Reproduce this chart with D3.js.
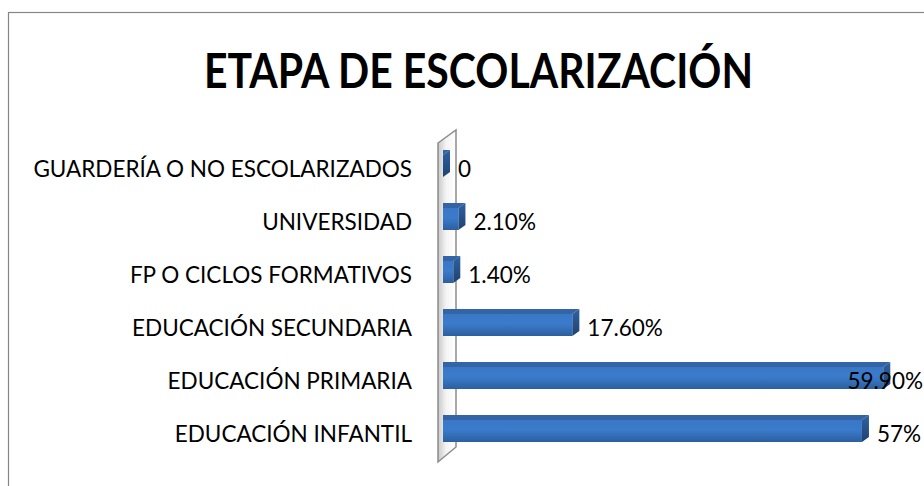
<!DOCTYPE html>
<html>
<head>
<meta charset="utf-8">
<script src="https://cdn.jsdelivr.net/npm/d3@7"></script>
<style>
  body { margin: 0; background: #fff; }
  svg { display: block; }
  text { font-family: Lato, "Open Sans", sans-serif; fill: #000; }
</style>
</head>
<body>
<svg width="924" height="486"></svg>
<script>
var svg = d3.select("svg"),
    width = +svg.attr("width"),
    height = +svg.attr("height");

// chart data, top to bottom as drawn
var categories = [
  "GUARDERÍA O NO ESCOLARIZADOS",
  "UNIVERSIDAD",
  "FP O CICLOS FORMATIVOS",
  "EDUCACIÓN SECUNDARIA",
  "EDUCACIÓN PRIMARIA",
  "EDUCACIÓN INFANTIL"
];
var values = [0, 2.1, 1.4, 17.6, 59.9, 57];
var valueLabels = ["0", "2.10%", "1.40%", "17.60%", "59.90%", "57%"];
var title = "ETAPA DE ESCOLARIZACIÓN";

var barH = 22,       // front face height
    depthX = 7,      // 3d depth offset
    depthY = 5;

var x = d3.scaleLinear().domain([0, 60]).range([443, 884]);
var y = d3.scalePoint().domain(categories).range([166, 431]);

var defs = svg.append("defs");

var front = defs.append("linearGradient")
    .attr("id", "barFront").attr("x1", 0).attr("y1", 0).attr("x2", 0).attr("y2", 1);
front.append("stop").attr("offset", "0%").attr("stop-color", "#3a78c6");
front.append("stop").attr("offset", "45%").attr("stop-color", "#3b7bcb");
front.append("stop").attr("offset", "100%").attr("stop-color", "#2c5f9f");

var side = defs.append("linearGradient")
    .attr("id", "barSide").attr("x1", 0).attr("y1", 0).attr("x2", 0).attr("y2", 1);
side.append("stop").attr("offset", "0%").attr("stop-color", "#2f62a3");
side.append("stop").attr("offset", "100%").attr("stop-color", "#1f426f");

var wallFill = defs.append("linearGradient")
    .attr("id", "wallFill").attr("x1", 0).attr("y1", 0).attr("x2", 1).attr("y2", 0);
wallFill.append("stop").attr("offset", "0%").attr("stop-color", "#c8c8c8");
wallFill.append("stop").attr("offset", "45%").attr("stop-color", "#f4f4f4");
wallFill.append("stop").attr("offset", "100%").attr("stop-color", "#ffffff");

// outer chart border (runs off the right and bottom edge)
svg.append("rect")
    .attr("x", 8.5).attr("y", 12.5)
    .attr("width", width + 20).attr("height", height + 20)
    .attr("fill", "#fff")
    .attr("stroke", "#868686")
    .attr("stroke-width", 1.2);

// title (squeezed to the width of the original condensed bold face)
svg.append("text")
    .attr("x", 478.5).attr("y", 88)
    .attr("text-anchor", "middle")
    .attr("textLength", 549)
    .attr("lengthAdjust", "spacingAndGlyphs")
    .style("font-size", "48px")
    .style("font-weight", "bold")
    .text(title);

// side wall of the 3d plot
var wx = x(0) - 5, wTop = y.range()[0] - 23, wBot = y.range()[1] + 31;
svg.append("path")
    .attr("d", "M" + wx + "," + wTop + "L" + (wx + 18) + "," + (wTop - 13) +
               "L" + (wx + 18) + "," + (wBot - 15) + "L" + wx + "," + wBot + "Z")
    .attr("fill", "url(#wallFill)")
    .attr("stroke", "#8c8c8c")
    .attr("stroke-width", 1.5);

// bars
var bar = svg.selectAll(".bar")
  .data(categories)
  .enter().append("g")
    .attr("class", "bar");

bar.append("path")
    .attr("d", function(d, i) {
      var x0 = x(0), x1 = x(values[i]), t = y(d) - barH / 2;
      return "M" + x0 + "," + t + "L" + x0 + "," + (t - depthY) +
             "L" + (x1 + depthX) + "," + (t - depthY) + "L" + x1 + "," + t + "Z";
    })
    .attr("fill", "#3365a6");

bar.append("rect")
    .attr("x", x(0))
    .attr("y", function(d) { return y(d) - barH / 2; })
    .attr("width", function(d, i) { return x(values[i]) - x(0); })
    .attr("height", barH)
    .attr("fill", "url(#barFront)");

bar.append("path")
    .attr("d", function(d, i) {
      var x1 = x(values[i]), t = y(d) - barH / 2, b = t + barH;
      return "M" + x1 + "," + t + "L" + (x1 + depthX) + "," + (t - depthY) +
             "L" + (x1 + depthX) + "," + (b - depthY) + "L" + x1 + "," + b + "Z";
    })
    .attr("fill", "url(#barSide)");

// category labels
svg.selectAll(".cat")
  .data(categories)
  .enter().append("text")
    .attr("class", "cat")
    .attr("x", 412)
    .attr("y", function(d) { return y(d) + 3; })
    .attr("dy", "0.35em")
    .attr("text-anchor", "end")
    .style("font-size", "22.5px")
    .text(function(d) { return d; });

// value labels, kept inside the chart's right edge
svg.selectAll(".val")
  .data(categories)
  .enter().append("text")
    .attr("class", "val")
    .attr("y", function(d) { return y(d) + 3; })
    .attr("dy", "0.35em")
    .style("font-size", "22.5px")
    .text(function(d, i) { return valueLabels[i]; })
    .attr("x", function(d, i) {
      var w = this.getComputedTextLength();
      return Math.min(x(values[i]) + 15, width - 1 - w);
    });
</script>
</body>
</html>
